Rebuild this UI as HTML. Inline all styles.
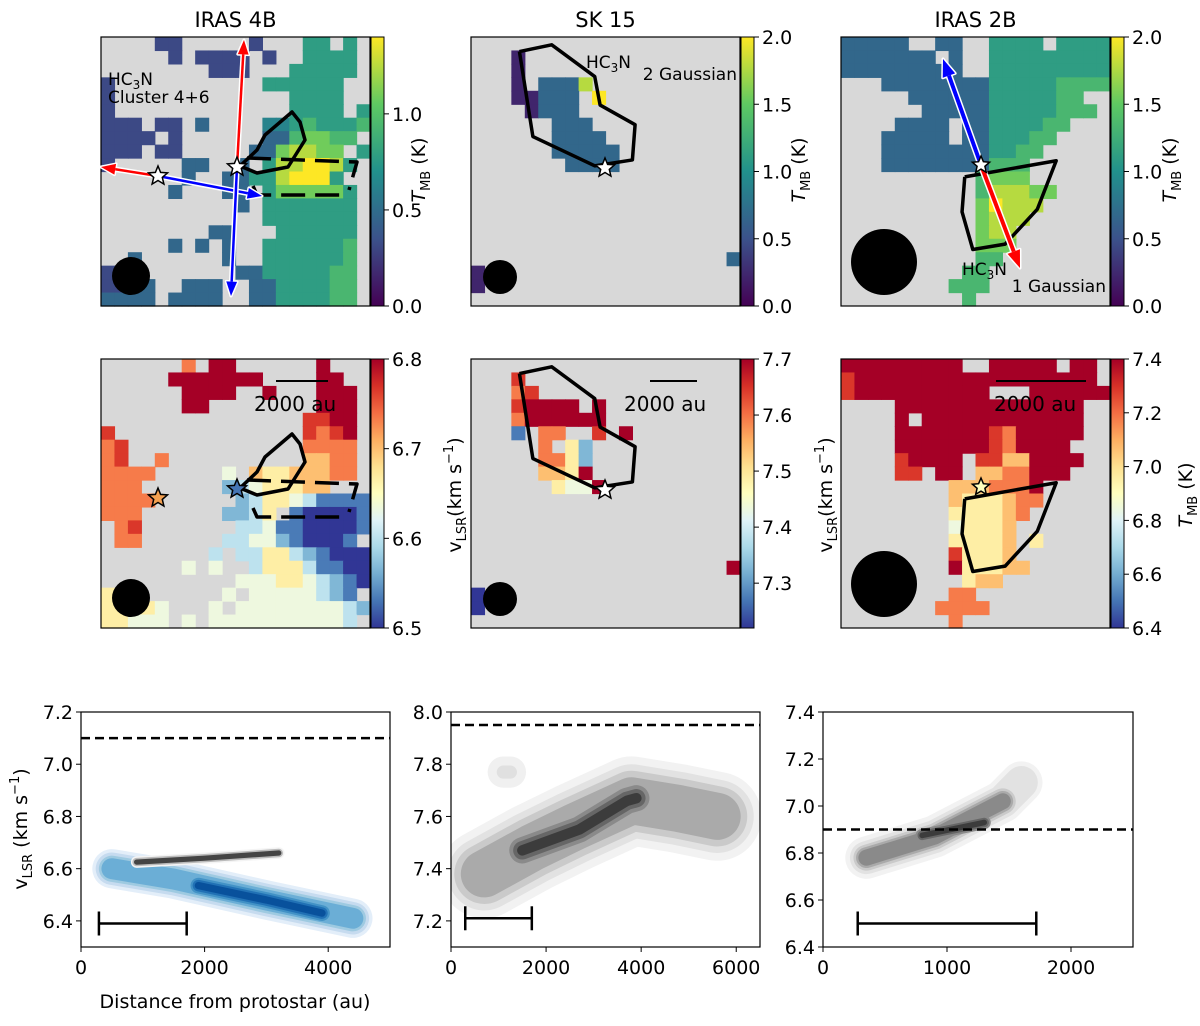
<!DOCTYPE html>
<html><head><meta charset="utf-8">
<style>
body{margin:0;background:#fff;}
svg text{font-family:"DejaVu Sans","Liberation Sans",sans-serif;fill:#000;}
</style></head>
<body>
<svg id="fig" width="1200" height="1021" viewBox="0 0 1200 1021" xmlns="http://www.w3.org/2000/svg"></svg>
<script>
// ---------- DATA ----------
const mapTitles = ["IRAS 4B","SK 15","IRAS 2B"];
const tmbRanges = [[0,1.4],[0,2.0],[0,2.0]];
const tmbTicks = [[0.0,0.5,1.0],[0.0,0.5,1.0,1.5,2.0],[0.0,0.5,1.0,1.5,2.0]];
const vRanges = [[6.5,6.8],[7.22,7.7],[6.4,7.4]];
const vTicks = [[6.5,6.6,6.7,6.8],[7.3,7.4,7.5,7.6,7.7],[6.4,6.6,6.8,7.0,7.2,7.4]];
const grid4Bt = ["....22.....2...55.5.",".....2.2222.2..5555.","........222...55555.","2...........555555..","2.............5555..","2.............5555.5","222.22.3....44565556","2222.2......3367766.","222.22.....3378877.5","2.....33..3.5889985.","......3..335589995..",".....3...33.5777775.","..........3.5555555.","............5555555.","........33...555555.",".....3.3.3..5555556.","..3......3..5555556.","223.......335555566.","2233..333..33555566.","3333.3333..33555566."];
const gridSKt = ["","...1","...1","...1.3338","...11333.9","....1333","......333","......3333","......33333",".......3333.","","","","","","","...................3","1","1",""];
const grid2Bt = ["33333..33..5555.5555","3333333.3..555555555","333333333..555555555","...33333333555556666",".....3333335555566..","......3333355555666.","....3333.33555566...","...33333.3355566....","...333333335566.....","...33333333666......","..........6777......","..........688877....","..........79888.....","..........7888......","..........788.......","..........777.......","..........66........",".........66.........","........666.........",".........6.........."];
const grid4Bv = ["......7.99......9",".....9999999....99","......9999..9...999","......99........999","...............8899","8..............8789","78.............7777","78..7..........6677","7777.....4.65566677","777......23455566..","7777......2355431111","777......2235.100001",".78.......3341100001",".77......3344210001","........3.3355321000","......4.4..355531100","..........4445543210","5.5......4.44444321","55554...4.4444444432","55444.4.44444444443"];
const gridSKv = ["","...8","...78","...89999.9","...7999999","...1.77..8.9",".....7.52",".....7752",".....6659..","......5449","","","","","","...................9","","0","0",""];
const grid2Bv = ["999999999..99999.99.","8999999999999999999.","89999999999...999999","....99999999999999.","....9.999999999999..","....99999998799999..","....9999999879999...","....89999.88669999..","....88.99.6677999...","........6667779.....","........6555677.....","........555567......","........45556.......","........55556.5.....","........85556.......","........955566......",".........566........","........77..........",".......7777.........","........7..........."];
const kdeXRange = [[0,5000],[0,6500],[0,2500]];
const kdeYRange = [[6.3,7.2],[7.1,8.0],[6.4,7.4]];
const kdeXTicks = [[0,2000,4000],[0,2000,4000,6000],[0,1000,2000]];
const kdeYTicks = [[6.4,6.6,6.8,7.0,7.2],[7.2,7.4,7.6,7.8,8.0],[6.4,6.6,6.8,7.0,7.2,7.4]];
const sysVel = [7.1,7.95,6.9];
const barX = [[290,1710],[300,1700],[280,1720]];
const barV = [6.39,7.21,6.5];
const blueRidgeD = [500,1500,3000,4400];
const blueRidgeV = [6.60,6.56,6.48,6.41];
const blueCoreD = [1900,3000,3900];
const blueCoreV = [6.535,6.48,6.43];
const grayA_D = [900,2000,3200];
const grayA_V = [6.625,6.64,6.66];
const skRidgeD = [700,1700,2600,3800,4800,5600];
const skRidgeV = [7.38,7.48,7.56,7.66,7.63,7.60];
const skCoreD = [1500,2700,3700,3900];
const skCoreV = [7.47,7.55,7.66,7.67];
const skBlobD = [1100,1250];
const skBlobV = [7.77,7.77];
const b2RidgeD = [350,900,1450,1600];
const b2RidgeV = [6.78,6.87,7.02,7.1];
const b2CoreD = [800,1300];
const b2CoreV = [6.875,6.93];
const levelW = [0.075,0.062,0.05,0.04,0.03,0.022,0.014];

// ---------- helpers ----------
const S = document.getElementById('fig');
const NS = "http://www.w3.org/2000/svg";
function el(tag, attrs, parent){const e=document.createElementNS(NS,tag);for(const k in attrs)e.setAttribute(k,attrs[k]);(parent||S).appendChild(e);return e;}
function txt(x,y,s,size,anchor,parent,extra){const t=el('text',Object.assign({x:x,y:y,'font-size':size,'text-anchor':anchor||'start'},extra||{}),parent);t.innerHTML=s;return t;}
function lerpC(stops,f){f=Math.max(0,Math.min(1,f));const n=stops.length-1;const i=Math.min(n-1,Math.floor(f*n));const t=f*n-i;const a=stops[i],b=stops[i+1];const h=c=>[parseInt(c.substr(1,2),16),parseInt(c.substr(3,2),16),parseInt(c.substr(5,2),16)];const A=h(a),B=h(b);return `rgb(${Math.round(A[0]+(B[0]-A[0])*t)},${Math.round(A[1]+(B[1]-A[1])*t)},${Math.round(A[2]+(B[2]-A[2])*t)})`;}
const viridis=["#440154","#3b528b","#21918c","#5ec962","#fde725"];
const rdylbu=["#313695","#4575b4","#74add1","#abd9e9","#e0f3f8","#ffffbf","#fee090","#fdae61","#f46d43","#d73027","#a50026"];

const colX=[101,471,841], W=269, rowY=[37,359], H=269, CBW=13;

function drawMap(ci,ri,grid,cmap,range,ticks){
  const x0=colX[ci], y0=rowY[ri];
  const g=el('g',{});
  
  
  el('rect',{x:x0,y:y0,width:W,height:H,fill:'#d8d8d8'},g);
  const cs=W/20;
  grid.forEach((row,r)=>{for(let c=0;c<row.length&&c<20;c++){const ch=row[c];if(ch==='.')continue;const f=(+ch)/9;
    const rc=el('rect',{x:(x0+c*cs).toFixed(2),y:(y0+r*cs).toFixed(2),width:(cs+0.6).toFixed(2),height:(cs+0.6).toFixed(2),fill:lerpC(cmap,f)},g);
    
    }});
  const cx=x0+W+1;
  const id='cb'+ci+ri;
  const lg=el('linearGradient',{id:id,x1:0,y1:1,x2:0,y2:0},el('defs',{},g));
  cmap.forEach((c,i)=>el('stop',{offset:i/(cmap.length-1),'stop-color':c},lg));
  const cb=el('rect',{x:cx,y:y0,width:CBW,height:H,fill:`url(#${id})`,stroke:'#000','stroke-width':1},g);
  
  
  ticks.forEach(v=>{const y=y0+H-(v-range[0])/(range[1]-range[0])*H;
    el('line',{x1:cx+CBW,x2:cx+CBW+5,y1:y,y2:y,stroke:'#000','stroke-width':1},g);
    txt(cx+CBW+8,y+7,v.toFixed(1),19,'start',g);});
  el('rect',{x:x0,y:y0,width:W,height:H,fill:'none',stroke:'#000','stroke-width':1.2},g);
  return g;
}
function poly(pts,parent,dash){return el('polyline',{points:pts.map(p=>p.join(',')).join(' '),fill:'none',stroke:'#000','stroke-width':3.5,'stroke-linejoin':'round','stroke-dasharray':dash||'none'},parent);}
function star(cx,cy,r,fill,parent){let p=[];for(let i=0;i<10;i++){const a=-Math.PI/2+i*Math.PI/5;const rr=i%2?r*0.45:r;p.push([cx+rr*Math.cos(a),cy+rr*Math.sin(a)]);}
  const s=el('polygon',{points:p.map(q=>q.map(v=>v.toFixed(1)).join(',')).join(' '),fill:fill,stroke:'#000','stroke-width':1.5},parent);
  return s;}
function arrow(x1,y1,x2,y2,color,w,head,parent){
  const g=el('g',{},parent);
  const dx=x2-x1,dy=y2-y1,L=Math.hypot(dx,dy),ux=dx/L,uy=dy/L;
  const bx=x2-ux*head*1.6,by=y2-uy*head*1.6;
  const hp=[[x2,y2],[bx+uy*head*0.6,by-ux*head*0.6],[bx-uy*head*0.6,by+ux*head*0.6]];
  el('line',{x1:x1,y1:y1,x2:bx,y2:by,stroke:'#fff','stroke-width':w+3},g);
  el('polygon',{points:hp.map(p=>p.join(',')).join(' '),fill:'#fff',stroke:'#fff','stroke-width':3,'stroke-linejoin':'round'},g);
  el('line',{x1:x1,y1:y1,x2:bx,y2:by,stroke:color,'stroke-width':w},g);
  el('polygon',{points:hp.map(p=>p.join(',')).join(' '),fill:color},g);
  return g;}

mapTitles.forEach((t,i)=>{const e=txt(colX[i]+W/2,27,t,21,'middle');});

const grids=[[grid4Bt,gridSKt,grid2Bt],[grid4Bv,gridSKv,grid2Bv]];
for(let c=0;c<3;c++){
  drawMap(c,0,grids[0][c],viridis,tmbRanges[c],tmbTicks[c]);
  drawMap(c,1,grids[1][c],rdylbu,vRanges[c],vTicks[c]);
}
function rotLabel(x,y,html,name){const t=txt(0,0,html,19,'middle',null,{transform:`translate(${x},${y}) rotate(-90)`});}
const tmbL='<tspan font-style="italic">T</tspan><tspan font-size="13" dy="5">MB</tspan><tspan dy="-5"> (K)</tspan>';
const vL='v<tspan font-size="13" dy="5">LSR</tspan><tspan dy="-5">(km s</tspan><tspan font-size="13" dy="-8">−1</tspan><tspan dy="8">)</tspan>';
rotLabel(425,170,tmbL,'colorbar-label-tmb');
rotLabel(805,170,tmbL,'colorbar-label-tmb');
rotLabel(1176,170,tmbL,'colorbar-label-tmb');
rotLabel(461,495,vL,'colorbar-label-vlsr');
rotLabel(832,495,vL,'colorbar-label-vlsr');
rotLabel(1192,495,tmbL,'colorbar-label-tmb');

for(let r=0;r<2;r++){
  const dy=r?322:0, g=el('g',{});
  
  poly([[240,166],[257,150],[265,135],[292,112],[300,122],[305,140],[288,167],[257,173],[240,166]].map(p=>[p[0],p[1]+dy]),g);
  poly([[247,158+dy],[357,162+dy],[349,190+dy]],g,'24,10');
  poly([[253,186+dy],[257,195+dy],[347,195+dy]],g,'24,10');
  const skP=[[0.18,0.054],[0.30,0.029],[0.46,0.147],[0.48,0.253],[0.61,0.326],[0.60,0.457],[0.46,0.479],[0.23,0.37],[0.18,0.054]].map(p=>[471+p[0]*W,37+dy+p[1]*H]);
  poly(skP,g);
  const bP=[[0.46,0.52],[0.80,0.46],[0.73,0.64],[0.61,0.77],[0.49,0.79],[0.45,0.65],[0.46,0.52]].map(p=>[841+p[0]*W,37+dy+p[1]*H]);
  poly(bP,g);
  el('circle',{cx:131,cy:276+dy,r:19,fill:'#000'},g);
  el('circle',{cx:500,cy:277+dy,r:17,fill:'#000'},g);
  el('circle',{cx:884,cy:262+dy,r:33,fill:'#000'},g);
  if(r===0){
    arrow(158,176,101,167,'#f00',2.5,9,g);
    arrow(158,176,262,196,'#00f',2.5,9,g);
    arrow(237,167,244,40,'#f00',2.5,9,g);
    arrow(237,167,231,296,'#00f',2.5,9,g);
    arrow(981,165,943,59,'#00f',4,11,g);
    arrow(981,165,1020,268,'#f00',4,11,g);
    star(158,176,10,'#fff',g);star(237,167,10,'#fff',g);
    star(605,168,10,'#fff',g);star(981,165,9,'#fff',g);
    txt(108,85,'HC<tspan font-size="12" dy="4">3</tspan><tspan dy="-4">N</tspan>',17,'start',g);
    txt(108,103,'Cluster 4+6',17,'start',g);
    txt(586,68,'HC<tspan font-size="12" dy="4">3</tspan><tspan dy="-4">N</tspan>',17,'start',g);
    txt(737,80,'2 Gaussian',17,'end',g);
    txt(962,275,'HC<tspan font-size="12" dy="4">3</tspan><tspan dy="-4">N</tspan>',17,'start',g);
    txt(1106,292,'1 Gaussian',17,'end',g);
  } else {
    star(158,498,10,'#f4a050',g);star(237,489,10,'#4575b4',g);
    star(605,490,10,'#fff',g);star(981,487,9,'#ffffbf',g);
    [[276,328,254],[650,697,624],[996,1086,994]].forEach(s=>{
      el('line',{x1:s[0],x2:s[1],y1:381,y2:381,stroke:'#000','stroke-width':2},g);
      txt(s[2],411,'2000 au',20,'start',g);});
  }
}

const bx=[81,451,823], bw=[309,309,310], by0=712, bh=235;
function mkScale(i){const xs=d=>bx[i]+(d-kdeXRange[i][0])/(kdeXRange[i][1]-kdeXRange[i][0])*bw[i];
  const ys=v=>by0+bh-(v-kdeYRange[i][0])/(kdeYRange[i][1]-kdeYRange[i][0])*bh;return [xs,ys];}
function ridge(i,D,V,widths,colors,g,name){
  const [xs,ys]=mkScale(i);
  const pts=D.map((d,k)=>xs(d).toFixed(1)+','+ys(V[k]).toFixed(1)).join(' ');
  widths.forEach((w,k)=>{const pw=Math.abs(ys(0)-ys(w))*2;
    const p=el('polyline',{points:pts,fill:'none',stroke:colors[k],'stroke-width':pw.toFixed(1),'stroke-linecap':'round','stroke-linejoin':'round'},g);
    });
}
const blues=["#e3eef9","#c6dbef","#9ecae1","#6baed6","#4292c6","#2171b5","#08519c"];
const grays=["#f2f2f2","#e2e2e2","#cacaca","#aaaaaa","#8a8a8a","#666","#3c3c3c"];
for(let i=0;i<3;i++){
  const g=el('g',{});
  const cp=el('clipPath',{id:'kc'+i},el('defs',{},g));el('rect',{x:bx[i],y:by0,width:bw[i],height:bh},cp);
  const inner=el('g',{'clip-path':`url(#kc${i})`},g);
  const [xs,ys]=mkScale(i);
  if(i===0){
    ridge(0,blueRidgeD,blueRidgeV,levelW.slice(0,4),blues.slice(0,4),inner,'kde-blue');
    ridge(0,blueCoreD,blueCoreV,levelW.slice(4),blues.slice(4),inner,'kde-blue-core');
    ridge(0,grayA_D,grayA_V,[0.022,0.016,0.01],["#f4f4f4","#bbb","#444"],inner,'kde-gray');
  } else if(i===1){
    ridge(1,skRidgeD,skRidgeV,[0.17,0.14,0.115,0.09],grays.slice(0,4),inner,'kde-gray');
    ridge(1,skCoreD,skCoreV,[0.07,0.05,0.035,0.02],grays.slice(3),inner,'kde-gray-core');
    ridge(1,skBlobD,skBlobV,[0.06,0.025],["#f0f0f0","#e0e0e0"],inner,'kde-gray-blob');
  } else {
    ridge(2,b2RidgeD,b2RidgeV,[0.09,0.07],grays.slice(0,2),inner,'kde-gray');
    ridge(2,b2RidgeD.slice(0,3),b2RidgeV.slice(0,3),[0.055,0.044,0.034],grays.slice(2,5),inner,'kde-gray');
    ridge(2,b2CoreD,b2CoreV,[0.028,0.02,0.012],grays.slice(4),inner,'kde-gray-core');
  }
  el('line',{x1:bx[i],x2:bx[i]+bw[i],y1:ys(sysVel[i]),y2:ys(sysVel[i]),stroke:'#000','stroke-width':2.5,'stroke-dasharray':'9,5'},g);
  const yb=ys(barV[i]);
  el('line',{x1:xs(barX[i][0]),x2:xs(barX[i][1]),y1:yb,y2:yb,stroke:'#000','stroke-width':2.5},g);
  [0,1].forEach(k=>el('line',{x1:xs(barX[i][k]),x2:xs(barX[i][k]),y1:yb-12,y2:yb+12,stroke:'#000','stroke-width':2.5},g));
  el('rect',{x:bx[i],y:by0,width:bw[i],height:bh,fill:'none',stroke:'#000','stroke-width':1.2},g);
  kdeXTicks[i].forEach(d=>{const x=xs(d);el('line',{x1:x,x2:x,y1:by0+bh,y2:by0+bh+5,stroke:'#000'},g);txt(x,by0+bh+27,String(d),19,'middle',g);});
  kdeYTicks[i].forEach(v=>{const y=ys(v);el('line',{x1:bx[i]-5,x2:bx[i],y1:y,y2:y,stroke:'#000'},g);txt(bx[i]-8,y+7,v.toFixed(1),19,'end',g);});
}
const xl=txt(235,1008,'Distance from protostar (au)',19,'middle');

rotLabel(27,829,vL.replace('(km','&#160;(km'),'y-axis-title');
</script>
</body></html>
